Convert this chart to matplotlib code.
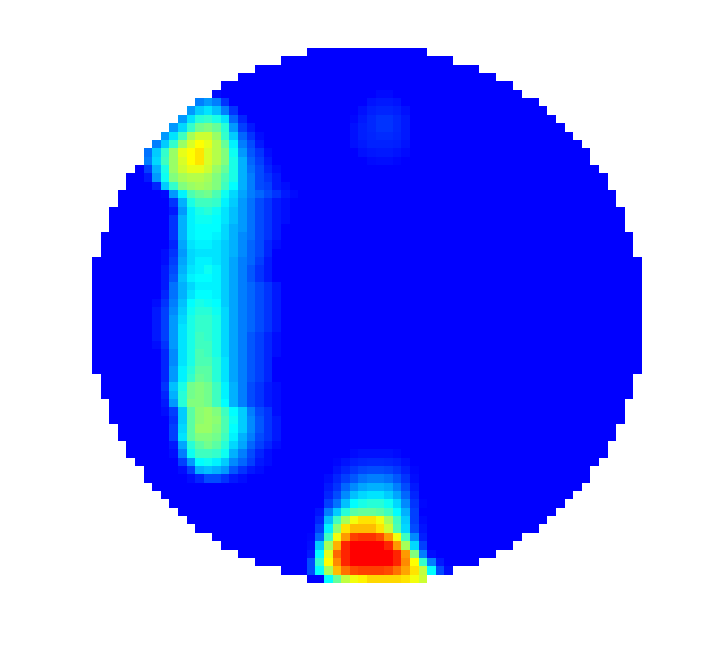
import numpy as np
import matplotlib
matplotlib.use("Agg")
import matplotlib.pyplot as plt
from matplotlib.colors import LinearSegmentedColormap

# ---- data (level 0 = background blue, 10 = cyan, 20 = yellow, 30 = red) ----
GRID_N = 64

# left band: rows 5..51, cols 5..23
band_row0, band_col0 = 5, 5
band_values = [
    [0,0,0,0,0,0,0,0,0,0.5,0,0,0,0,0,0,0,0,0],
    [0,0,0,0,0,0,0,5,6,5,2,0,0,0,0,0,0,0,0],
    [0,0,0,0,0,0,6,8,9,7.5,5,2,0,0,0,0,0,0,0],
    [0,0,0,0,0,6,9,11.5,12,11,9,4,1.5,0,0,0,0,0,0],
    [0,0,0,0,6,8.5,12,14.5,15,14,11.5,6,2.5,1,0,0,0,0,0],
    [0,0,0,6,9,12.5,16.5,18,18,16,12,8,4,2,0.5,0,0,0,0],
    [0,0,5,8,12,16,18.5,20,19,17,14,9.5,5,3,1,0,0,0,0],
    [0,4.5,8,12,16,19,20,21,18.5,17,15,10.5,6,3.5,2,0.5,0,0,0],
    [0,5,8.5,12.5,16,18.5,20,21,18.5,17,15,11,7,4,2.5,1,0,0,0],
    [0,2.5,7,11,16,18,19,19,18,16,14,11,7,4.5,3,1.5,0.5,0,0],
    [0,1,6,10.5,15,16.5,17,17,16.5,15,13,11,7,5,3,2,1,0,0],
    [0,0,1.5,8,12,15,16,16.5,16,15,12.5,10,7,5,3,2.5,1,0.5,0],
    [0,0,0,0.3,6,9.5,13,14,14.5,13,10.5,8.5,6.5,5,4,3,2,1,0.4],
    [0,0,0,0,2,7,11,12.5,12.5,12,9.5,8,6,4.5,3,2,1,0.5,0],
    [0,0,0,0,1,6,9.5,11,11.5,10.5,9,7.5,6,4.5,3,2,1,0.5,0],
    [0,0,0,0,2,7,9.5,10.5,10.5,10,9,7.5,6,4.5,3,2,1,0.5,0],
    [0,0,0,0,2,7,9.5,10,10,10,8.5,7,6,4.5,3,2,1,0,0],
    [0,0,0,0,2,7,9.5,10,10,9.5,8.5,7,5.5,4.5,3,2,1,0,0],
    [0,0,0,0,1.5,6.5,9,9.5,9.5,9,8,7,5.5,4,3,1.5,0.5,0,0],
    [0,0,0,0.5,2,6,8.5,9,9,9,8,7,5.5,4,3,1.5,0,0,0],
    [0,0,0,0.5,2.5,6.5,8.5,9.5,9.5,9,8,6.5,5,4,2.5,1,0,0,0],
    [0,0,0,1,3,7,9,9.5,10.5,9.5,8,6.5,5,3.5,2,1,0,0,0],
    [0,0,0,1,3.5,7.5,9.5,10,10,9.5,8,6.5,5,3.5,2,1,0,0,0],
    [0,0,0,1,4.5,7,8.5,9.5,9.5,9.5,8,6.5,5,4,3,2,1,0,0],
    [0,0,0,1.5,4.5,7,9,10,10,9.5,8,6.5,5,4,3,2,1,0,0],
    [0,0,0.5,2,5,7.5,10,11,10.5,10,8,6.5,5,4,3,2,1,0,0],
    [0,0,1,2.5,5.5,8,10.5,11.5,11.5,10.5,8.5,6.5,5,4,3,2,1,0,0],
    [0,0,1,2.5,6,8.5,11,12,12,11,8.5,6.5,5,4,3,2,1,0,0],
    [0,0,1,2.5,6,9,11,12,12,11,8.5,6.5,5,4,3,2,1,0,0],
    [0,0,1,2.5,6,9,11,12.5,12,11,8.5,6.5,5,3.5,2.5,1.5,0.5,0,0],
    [0,0,0.5,2,6,9,11,12.5,12.5,11,8.5,6.5,5,3.5,2.5,1.5,0.5,0,0],
    [0,0,0,1.5,5.5,9,11,13,12.5,11,8.5,6.5,5,3.5,2.5,1.5,0.5,0,0],
    [0,0,0,1.5,5.5,9,11,13,13,11.5,9,6.5,5,3.5,2.5,1.5,0,0,0],
    [0,0,0,1.5,6,9.5,11.5,13.5,13.5,11.5,9,6.5,5,3.5,2.5,1.5,0,0,0],
    [0,0,0,1.5,6,9.5,12,14,13.5,11.5,9,6.5,5,3.5,2.5,1.5,0,0,0],
    [0,0,0,2,7.5,11,14.5,15,14.5,12.5,9.5,7,5,3,2,1,0.5,0,0],
    [0,0,0,1.5,7,11.5,14.5,15,14.5,12.5,9.5,7,5,3,2,1,0.5,0,0],
    [0,0,0,1,6,11.5,15,15,14.5,12.5,10,7,5,3,2,1,0.5,0,0],
    [0,0,0,0.5,2.5,8,13.5,15.5,16,15,12.5,10,8,5,3,2,0.5,0,0],
    [0,0,0,0,2,8,13.5,15.5,16,15.5,13,10.5,8,5.5,3.5,2,1,0,0],
    [0,0,0,0,2.5,8.5,13.5,16,16,15,13,10,8,5.5,3.5,2,1,0,0],
    [0,0,0,0,2.5,9,13.5,15,15,14.5,12.5,9.5,7,5,3,2,1,0,0],
    [0,0,0,0,1,6.5,11.5,13.5,14.5,13.5,11.5,8.5,6.5,4,2.5,1.5,0.5,0,0],
    [0,0,0,0,0.5,5,10.5,12.5,12.5,12,10.5,7,5,3,1.5,0.5,0,0,0],
    [0,0,0,0,0,2.5,6,10,10.5,9.5,8,5.5,4,2.5,1,0.5,0,0,0],
    [0,0,0,0,0,0.5,2.5,7,7.5,7,6,3.5,2,1,0.5,0,0,0,0],
    [0,0,0,0,0,0,0.5,1.5,3,3,2,1,0.5,0,0,0,0,0,0],
]

# faint spot near the top: rows 5..13, cols 29..37
top_row0, top_col0 = 5, 29
top_values = [
    [0,0,0,0,0.4,0.4,0,0,0],
    [0,0,0,0.8,1,1,0.8,0,0],
    [0,0,0.6,1.2,1.5,1.5,1.2,0.6,0],
    [0,0.3,1,1.6,2,2,1.6,1,0],
    [0,0.6,1.2,1.6,2,2,1.6,1,0],
    [0,0.7,1.2,1.5,1.7,1.7,1.5,1,0],
    [0,0.6,1,1.3,1.4,1.4,1.2,0.8,0],
    [0,0,0.6,0.9,1,1,0.8,0.4,0],
    [0,0,0,0.4,0.5,0.5,0.3,0,0],
]

# hot spot at the bottom: rows 48..63, cols 22..42
bottom_row0, bottom_col0 = 48, 22
bottom_values = [
    [0,0,0,0,0,0,0,0,0.4,0.6,0.7,0.7,0.6,0.4,0,0,0,0,0,0,0],
    [0,0,0,0,0,0,0.3,0.8,1.2,1.5,1.6,1.6,1.5,1.2,0.6,0,0,0,0,0,0],
    [0,0,0,0,0,0,0.8,1.5,2.2,2.8,3,3,2.8,2.2,1.2,0.3,0,0,0,0,0],
    [0,0,0,0,0,0.5,1.5,2.5,3.5,4.5,5,5,4.5,3.5,2,0.5,0,0,0,0,0],
    [0,0,0,0,0,1,2,4,5.5,6.5,7,7,6.5,5,3,1,0,0,0,0,0],
    [0,0,0,0,0,1.5,3,5.5,7.5,8.5,9,9,8,6.5,4,1.5,0,0,0,0,0],
    [0,0,0,0,0,2.5,4.5,7.5,10,11,11.5,11.5,10.5,8.5,5.5,2,0.3,0,0,0,0],
    [0,0,0,0,0.8,5,8,11.5,13.5,14,14,13.5,12.5,10,7,2.5,0,0,0,0,0],
    [0,0,0,0,1.5,7.5,12.5,16.5,19.5,21,21,19.5,16.5,12.5,8,2.5,0.4,0,0,0,0],
    [0,0,0,0,2.5,9.5,15.5,21,22.5,22.5,22.5,21,18,13,8.5,3,0.8,0,0,0,0],
    [0,0,0,0.3,4,12.5,19.5,24,27.5,28,28,27,24,19.5,12.5,5.5,1.2,0,0,0,0],
    [0,0,0,0.5,8,16.5,23,28.5,30,30,30,30,28.5,24,16.5,8.5,2.5,0,0,0,0],
    [0,0,0,1,10,19,26,28.5,30,30,30,30,30,28.5,24,15,5,0.5,0,0,0],
    [0,0,0,3,12,20,24.5,28.5,30,30,30,30,30,28.5,24.5,20,12,5,1,0,0],
    [0,0,0,3,10,16.5,22.5,25.5,27,27.5,27.5,27.5,27,25.5,23.5,21,17.5,10,3,0.5,0],
    [0,0,0,0,0,10,14,17.5,19.5,20.5,21.5,21.5,21.5,21.5,21,19.5,18,0,0,0,0],
]

VMIN, VMAX = 0, 30

# ---- assemble grid ----
grid = np.zeros((GRID_N, GRID_N))
for vals, r0, c0 in [(band_values, band_row0, band_col0),
                     (top_values, top_row0, top_col0),
                     (bottom_values, bottom_row0, bottom_col0)]:
    arr = np.array(vals, dtype=float)
    h, w = arr.shape
    grid[r0:r0 + h, c0:c0 + w] = np.maximum(grid[r0:r0 + h, c0:c0 + w], arr)

# circular sensor area
yy, xx = np.mgrid[0:GRID_N, 0:GRID_N]
centre = GRID_N / 2
inside = (xx + 0.5 - centre) ** 2 + (yy + 0.5 - centre) ** 2 <= 1037
masked = np.ma.masked_where(~inside, grid)

cmap = LinearSegmentedColormap.from_list(
    "bcyr", [(0, 0, 1), (0, 1, 1), (1, 1, 0), (1, 0, 0)])
cmap.set_bad((1, 1, 1, 0))

fig = plt.figure(figsize=(7.10, 6.56), dpi=100)
fig.patch.set_facecolor("white")
ax = fig.add_axes([92 / 710, (656 - 583) / 656, 550 / 710, 535 / 656])
ax.imshow(masked, cmap=cmap, vmin=VMIN, vmax=VMAX,
          interpolation="nearest", aspect="auto")
ax.axis("off")
fig.savefig("out.png", dpi=100, facecolor="white")
